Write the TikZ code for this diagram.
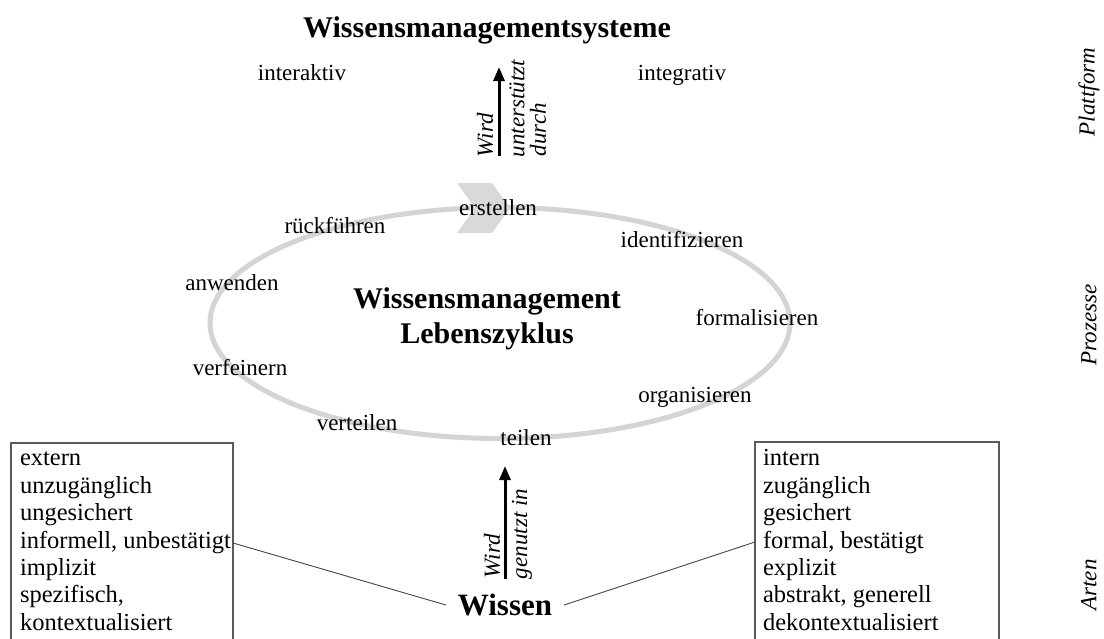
\documentclass[tikz,border=0pt]{standalone}
\usepackage{fontspec}
\setmainfont{Liberation Serif}
\usetikzlibrary{arrows.meta,shapes.geometric}
\definecolor{ringgray}{RGB}{212,212,212}
\definecolor{chevgray}{RGB}{217,217,217}
\definecolor{boxline}{RGB}{90,90,90}
\definecolor{linkline}{RGB}{70,70,70}
\begin{document}
\begin{tikzpicture}[x=1pt,y=-1pt,
  every node/.style={inner sep=0pt, outer sep=0pt},
  heading/.style={font=\fontsize{30}{35}\selectfont\bfseries, anchor=base},
  phase/.style={font=\fontsize{23}{27}\selectfont, anchor=base},
  listtext/.style={font=\fontsize{24.5}{27.4}\selectfont, align=left, anchor=north west},
  listbox/.style={draw=boxline, line width=1.1pt, anchor=north west, minimum height=200pt},
  relation/.style={font=\fontsize{23}{25}\selectfont\itshape, rotate=90, anchor=west},
  levellabel/.style={font=\fontsize{23}{25}\selectfont\itshape, rotate=90, anchor=center},
  usearrow/.style={line width=3pt, -{Triangle[length=14pt,width=11pt]}},
  link/.style={draw=linkline, line width=0.9pt},
]
\useasboundingbox (0,0) rectangle (1104,638);
\fill[white] (0,0) rectangle (1104,638);

% knowledge management life cycle
\node[ellipse, draw=ringgray, line width=5pt, minimum width=580pt, minimum height=231pt] (ring) at (500,323) {};
\fill[chevgray] (457,183) -- (492,183) -- (510,208) -- (492,233) -- (457,233) -- (475,208) -- cycle;

\node[phase] (erstellen) at (498,215) {erstellen};
\node[phase] (rueckfuehren) at (335,233) {rückführen};
\node[phase] (identifizieren) at (682,247) {identifizieren};
\node[phase] (anwenden) at (232,290) {anwenden};
\node[phase] (formalisieren) at (757,325) {formalisieren};
\node[phase] (verfeinern) at (240,375) {verfeinern};
\node[phase] (organisieren) at (695,402) {organisieren};
\node[phase] (verteilen) at (357,430) {verteilen};
\node[phase] (teilen) at (526,445) {teilen};

\node[heading, align=center, anchor=north] (wmlc) at (487,283.5) {\strut Wissensmanagement\\Lebenszyklus};

% platform level
\node[heading] (wms) at (487,37) {Wissensmanagementsysteme};
\node[phase] (interaktiv) at (302,80) {interaktiv};
\node[phase] (integrativ) at (682,80) {integrativ};

\coordinate (upS) at (499,156);
\coordinate (upE) at (499,67);
\draw[usearrow] (upS) -- (upE);
\node[relation] (wirdA) at (485,157) {Wird};
\node[relation] (unterstuetzt) at (517,157) {unterstützt};
\node[relation] (durch) at (538,156) {durch};

% kinds of knowledge
\node[listbox, minimum width=222pt] (extbox) at (11,443) {};
\node[listtext] (extlist) at (20,446.8) {\strut extern\\unzugänglich\\ungesichert\\informell, unbestätigt\\implizit\\spezifisch,\\kontextualisiert};

\node[listbox, minimum width=244pt] (intbox) at (755,442) {};
\node[listtext] (intlist) at (763,446.8) {\strut intern\\zugänglich\\gesichert\\formal, bestätigt\\explizit\\abstrakt, generell\\dekontextualisiert};

\node[font=\fontsize{31}{35}\selectfont\bfseries, inner xsep=12pt] (wissen) at (505,605) {Wissen};
\draw[link] (extbox.east) -- (wissen.west);
\draw[link] (wissen.east) -- (intbox.west);

\coordinate (useS) at (505,579);
\coordinate (useE) at (505,466);
\draw[usearrow] (useS) -- (useE);
\node[relation] (wirdB) at (492,578) {Wird};
\node[relation] (genutzt) at (522,579) {genutzt in};

% level labels
\node[levellabel] (plattform) at (1089,92) {Plattform};
\node[levellabel] (prozesse) at (1089,325) {Prozesse};
\node[levellabel] (arten) at (1089,585) {Arten};
\end{tikzpicture}
\end{document}
